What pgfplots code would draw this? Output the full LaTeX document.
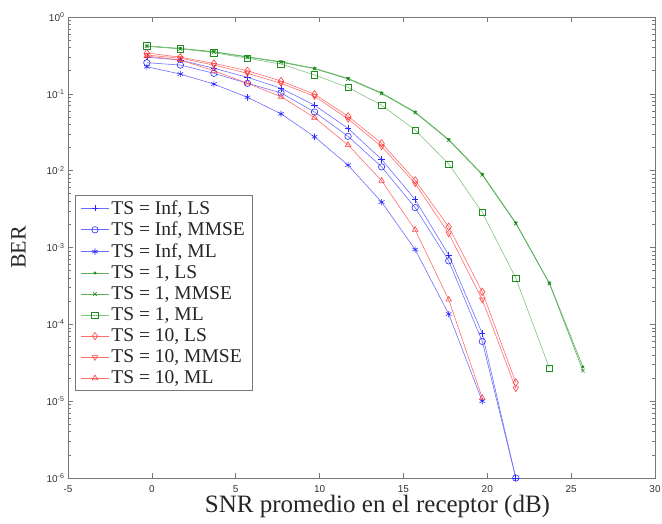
\documentclass[border=0pt]{standalone}
\usepackage{fontspec}
\setmainfont{Liberation Serif}
\setsansfont{Liberation Sans}
\usepackage{pgfplots}
\pgfplotsset{compat=1.18}
\definecolor{bl}{RGB}{110,110,255}
\definecolor{blm}{RGB}{40,40,255}
\definecolor{gl}{RGB}{90,175,90}
\definecolor{glm}{RGB}{30,140,30}
\definecolor{rl}{RGB}{255,110,110}
\definecolor{rlm}{RGB}{255,60,60}
\definecolor{axgray}{RGB}{120,120,120}
\begin{document}
\begin{tikzpicture}
\path[use as bounding box] (-68pt,-46pt) rectangle (594pt,478pt);
\begin{axis}[
  at={(0,0)}, anchor=south west,
  scale only axis, width=587pt, height=461pt,
  ymode=log, xmin=-5, xmax=30, ymin=1e-6, ymax=1,
  xtick={-5,0,...,30},
  ytick={1e-6,1e-5,1e-4,1e-3,1e-2,1e-1,1},
  tick align=inside, ticks=both,
  major tick length=5pt, minor tick length=3pt,
  axis line style={axgray, line width=0.8pt},
  every tick/.style={axgray, line width=0.6pt},
  tick label style={font=\sffamily\fontsize{10}{12}\selectfont, text=black!80},
  xticklabel style={/pgf/number format/assume math mode=true, yshift=-4pt},
  yticklabel={10\textsuperscript{\pgfmathparse{int(round(\tick/2.302585093))}\pgfmathresult}},
  xlabel={SNR promedio en el receptor (dB)},
  ylabel={BER},
  label style={text=black!85},
  xlabel style={font=\fontsize{25}{28}\selectfont, yshift=4pt, xshift=16pt},
  ylabel style={font=\fontsize{22}{26}\selectfont, yshift=14pt},
  legend style={at={(0.012,0.614)}, anchor=north west, draw=axgray, line width=0.8pt,
    fill=white, font=\fontsize{19.5}{21}\selectfont, text=black!85, cells={anchor=west},
    row sep=2.6pt, inner xsep=5pt, inner ysep=3pt},
  legend image code/.code={\draw[mark repeat=2,mark phase=2] plot coordinates {(0cm,0cm)(0.5cm,0cm)(1cm,0cm)};},
  legend image post style={line width=0.6pt},
  every axis plot/.append style={line width=0.6pt, mark size=3.2pt},
]
% TS = Inf
\addplot[bl, mark=+, mark options={draw=blm}] coordinates {(-0.3,0.30)(1.7,0.275)(3.7,0.215)(5.7,0.164)(7.7,0.118)(9.7,0.071)(11.7,0.0355)(13.7,0.014)(15.7,0.0042)(17.7,0.0008)(19.7,7.6e-5)(21.7,1e-6)};
\addlegendentry{TS = Inf, LS}
\addplot[bl, mark=o, mark options={draw=blm}] coordinates {(-0.3,0.254)(1.7,0.237)(3.7,0.185)(5.7,0.137)(7.7,0.103)(9.7,0.058)(11.7,0.028)(13.7,0.0112)(15.7,0.0033)(17.7,0.00067)(19.7,6.0e-5)(21.7,1e-6)};
\addlegendentry{TS = Inf, MMSE}
\addplot[bl, mark=asterisk, mark options={draw=blm}] coordinates {(-0.3,0.225)(1.7,0.181)(3.7,0.134)(5.7,0.09)(7.7,0.055)(9.7,0.0276)(11.7,0.0118)(13.7,0.0039)(15.7,0.00094)(17.7,0.000136)(19.7,1e-5)};
\addlegendentry{TS = Inf, ML}
% TS = 1
\addplot[gl, mark=*, mark size=1.2pt, mark options={draw=glm, fill=glm}] coordinates {(-0.3,0.42)(1.7,0.39)(3.7,0.354)(5.7,0.304)(7.7,0.262)(9.7,0.215)(11.7,0.159)(13.7,0.103)(15.7,0.058)(17.7,0.0255)(19.7,0.009)(21.7,0.0021)(23.7,0.000347)(25.7,2.8e-5)};
\addlegendentry{TS = 1, LS}
\addplot[gl, mark=x, mark size=2.5pt, mark options={draw=glm}] coordinates {(-0.3,0.415)(1.7,0.385)(3.7,0.35)(5.7,0.30)(7.7,0.258)(9.7,0.212)(11.7,0.156)(13.7,0.101)(15.7,0.057)(17.7,0.025)(19.7,0.0088)(21.7,0.00205)(23.7,0.00034)(25.7,2.5e-5)};
\addlegendentry{TS = 1, MMSE}
\addplot[gl!75, mark=square, mark options={draw=glm}] coordinates {(-0.3,0.42)(1.7,0.387)(3.7,0.343)(5.7,0.29)(7.7,0.244)(9.7,0.176)(11.7,0.121)(13.7,0.071)(15.7,0.0338)(17.7,0.0122)(19.7,0.00286)(21.7,0.0004)(23.7,2.7e-5)};
\addlegendentry{TS = 1, ML}
% TS = 10
\addplot[rl, mark=diamond, mark size=3.6pt, mark options={draw=rlm}] coordinates {(-0.3,0.34)(1.7,0.30)(3.7,0.249)(5.7,0.2)(7.7,0.147)(9.7,0.099)(11.7,0.051)(13.7,0.0227)(15.7,0.0075)(17.7,0.00186)(19.7,0.000265)(21.7,1.75e-5)};
\addlegendentry{TS = 10, LS}
\addplot[rl, mark=triangle, mark options={draw=rlm, rotate=180}] coordinates {(-0.3,0.32)(1.7,0.29)(3.7,0.237)(5.7,0.185)(7.7,0.137)(9.7,0.093)(11.7,0.047)(13.7,0.0206)(15.7,0.0068)(17.7,0.00152)(19.7,0.00021)(21.7,1.46e-5)};
\addlegendentry{TS = 10, MMSE}
\addplot[rl, mark=triangle, mark options={draw=rlm}] coordinates {(-0.3,0.31)(1.7,0.275)(3.7,0.2)(5.7,0.137)(7.7,0.092)(9.7,0.049)(11.7,0.0216)(13.7,0.0074)(15.7,0.0017)(17.7,0.00021)(19.7,1.1e-5)};
\addlegendentry{TS = 10, ML}
\end{axis}
\end{tikzpicture}
\end{document}
